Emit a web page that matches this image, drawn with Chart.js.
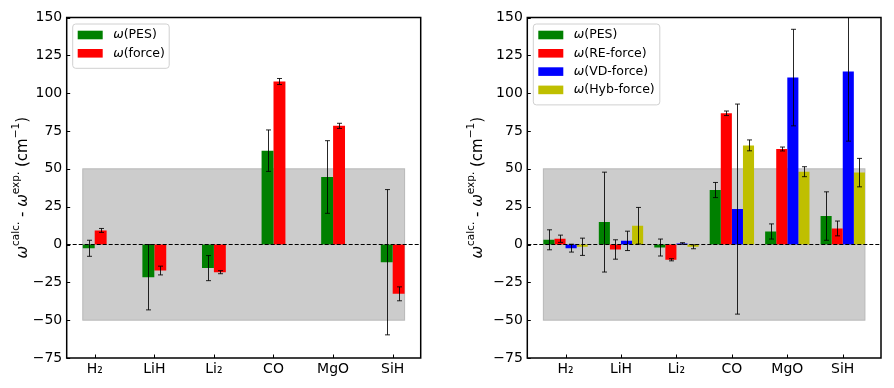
<!DOCTYPE html>
<html>
<head>
<meta charset="utf-8">
<script src="https://cdn.jsdelivr.net/npm/chart.js@4/dist/chart.umd.min.js"></script>
<style>
  body { margin: 0; background: #fff; }
  #wrap { position: relative; width: 894px; height: 388px; }
  canvas { position: absolute; top: 0; }
</style>
</head>
<body>
<div id="wrap">
  <canvas id="leftChart" width="447" height="388" style="left:0"></canvas>
  <canvas id="rightChart" width="447" height="388" style="left:447px"></canvas>
</div>
<script>
// molecules on the x axis
const categories = ['H₂', 'LiH', 'Li₂', 'CO', 'MgO', 'SiH'];
const yTicks = [-75, -50, -25, 0, 25, 50, 75, 100, 125, 150];

// left panel
const pesLeft = [-2.5, -21.6, -15.6, 62.0, 44.6, -11.7];
const pesLeftErr = [5.3, 21.6, 8.3, 13.7, 24.0, 48.0];
const forceLeft = [9.3, -17.2, -18.3, 107.7, 78.4, -32.6];
const forceLeftErr = [1.3, 2.9, 1.0, 2.0, 1.7, 4.6];

// right panel
const pesRight = [3.1, 14.8, -2.0, 36.0, 8.6, 18.8];
const pesRightErr = [6.6, 33.0, 5.6, 5.0, 5.0, 16.0];
const reRight = [3.8, -3.3, -10.1, 86.7, 63.1, 10.6];
const reRightErr = [2.4, 6.4, 0.7, 1.5, 1.3, 4.9];
const vdRight = [-2.4, 2.4, 0.7, 23.4, 110.3, 114.3];
const vdRightErr = [2.6, 6.4, 0.5, 69.4, 31.9, 46.0];
const hybRight = [-1.5, 12.4, -1.5, 65.5, 48.1, 47.5];
const hybRightErr = [5.7, 12.1, 1.3, 3.6, 3.3, 9.4];

// shaded band
const bandLow = -50;
const bandHigh = 50;

const FONT = 'DejaVu Sans';

function toXY(values) {
    return values.map((v, i) => ({ x: i, y: v }));
}

// draws band, error bars, zero line, frame, ticks, legend and y title
const decorPlugin = {
    id: 'decor',
    beforeDatasetsDraw(chart, args, opts) {
        const ctx = chart.ctx;
        const x = chart.scales.x, y = chart.scales.y;
        const x0 = x.getPixelForValue(opts.bandX[0]);
        const x1 = x.getPixelForValue(opts.bandX[1]);
        const y0 = y.getPixelForValue(bandHigh);
        const y1 = y.getPixelForValue(bandLow);
        ctx.save();
        ctx.fillStyle = '#cccccc';
        ctx.fillRect(x0, y0, x1 - x0, y1 - y0);
        ctx.strokeStyle = '#b8b8b8';
        ctx.lineWidth = 1;
        ctx.strokeRect(x0, y0, x1 - x0, y1 - y0);
        ctx.restore();
    },
    afterDatasetsDraw(chart, args, opts) {
        const ctx = chart.ctx;
        const area = chart.chartArea;
        const x = chart.scales.x, y = chart.scales.y;
        ctx.save();

        // error bars
        ctx.beginPath();
        ctx.rect(area.left, area.top, area.right - area.left, area.bottom - area.top);
        ctx.clip();
        ctx.strokeStyle = 'rgba(0,0,0,0.85)';
        ctx.lineWidth = 1;
        chart.data.datasets.forEach((ds, di) => {
            const meta = chart.getDatasetMeta(di);
            meta.data.forEach((bar, i) => {
                const v = ds.data[i].y, e = ds.errors[i];
                const yt = y.getPixelForValue(v + e);
                const yb = y.getPixelForValue(v - e);
                const cx = Math.round(bar.x) + 0.5;
                ctx.beginPath();
                ctx.moveTo(cx, yt);
                ctx.lineTo(cx, yb);
                ctx.moveTo(cx - 2.5, yt);
                ctx.lineTo(cx + 2.5, yt);
                ctx.moveTo(cx - 2.5, yb);
                ctx.lineTo(cx + 2.5, yb);
                ctx.stroke();
            });
        });

        // zero line
        const yz = y.getPixelForValue(0);
        ctx.strokeStyle = '#000';
        ctx.lineWidth = 1.2;
        ctx.setLineDash([4, 2]);
        ctx.beginPath();
        ctx.moveTo(area.left, yz);
        ctx.lineTo(area.right, yz);
        ctx.stroke();
        ctx.setLineDash([]);
        ctx.restore();

        ctx.save();
        // ticks pointing inward
        ctx.strokeStyle = '#000';
        ctx.lineWidth = 1;
        yTicks.forEach(t => {
            const py = Math.round(y.getPixelForValue(t)) + 0.5;
            ctx.beginPath();
            ctx.moveTo(area.left, py);
            ctx.lineTo(area.left + 3.5, py);
            ctx.stroke();
        });
        categories.forEach((c, i) => {
            const px = Math.round(x.getPixelForValue(i)) + 0.5;
            ctx.beginPath();
            ctx.moveTo(px, area.bottom);
            ctx.lineTo(px, area.bottom - 3.5);
            ctx.stroke();
        });

        // frame
        ctx.lineWidth = 1.5;
        ctx.strokeRect(area.left, area.top, area.right - area.left, area.bottom - area.top);

        // legend
        const items = chart.data.datasets;
        const lx = area.left + 6, ly = area.top + 6.5;
        const rowH = 18.3;
        const boxH = 14 + rowH * (items.length - 1) + 12;
        const boxW = opts.legendWidth;
        ctx.fillStyle = 'rgba(255,255,255,0.85)';
        ctx.strokeStyle = '#d0d0d0';
        ctx.lineWidth = 1;
        ctx.beginPath();
        ctx.roundRect(lx, ly, boxW, boxH, 3);
        ctx.fill();
        ctx.stroke();
        ctx.textBaseline = 'middle';
        items.forEach((ds, i) => {
            const cy = ly + 11 + i * rowH;
            ctx.fillStyle = ds.backgroundColor;
            ctx.fillRect(lx + 5, cy - 4.3, 25, 8.6);
            ctx.fillStyle = '#000';
            ctx.font = 'italic 12.5px ' + FONT;
            ctx.textAlign = 'left';
            ctx.fillText('ω', lx + 40.5, cy);
            const w = ctx.measureText('ω').width;
            ctx.font = '12.5px ' + FONT;
            ctx.fillText('(' + ds.label + ')', lx + 40.5 + w, cy);
        });

        // y axis title with superscripts
        const parts = [
            { t: 'ω', f: 'italic 15px ' + FONT, dy: 0 },
            { t: 'calc.', f: '10.5px ' + FONT, dy: -6.5 },
            { t: ' - ', f: '15px ' + FONT, dy: 0 },
            { t: 'ω', f: 'italic 15px ' + FONT, dy: 0 },
            { t: 'exp.', f: '10.5px ' + FONT, dy: -6.5 },
            { t: ' (cm', f: '15px ' + FONT, dy: 0 },
            { t: '−1', f: '10.5px ' + FONT, dy: -6.5 },
            { t: ')', f: '15px ' + FONT, dy: 0 }
        ];
        let total = 0;
        parts.forEach(p => { ctx.font = p.f; p.w = ctx.measureText(p.t).width; total += p.w; });
        ctx.translate(opts.titleX, (area.top + area.bottom) / 2);
        ctx.rotate(-Math.PI / 2);
        ctx.fillStyle = '#000';
        ctx.textBaseline = 'middle';
        ctx.textAlign = 'left';
        let px = -total / 2;
        parts.forEach(p => {
            ctx.font = p.f;
            ctx.fillText(p.t, px, p.dy);
            px += p.w;
        });
        ctx.restore();
    }
};

function makeChart(canvasId, datasets, opts) {
    return new Chart(document.getElementById(canvasId).getContext('2d'), {
        type: 'bar',
        data: { datasets: datasets },
        plugins: [decorPlugin],
        options: {
            responsive: false,
            animation: false,
            devicePixelRatio: 1,
            layout: { padding: { top: 17.5, right: opts.padRight, left: 0, bottom: 0 } },
            datasets: {
                bar: {
                    categoryPercentage: opts.groupWidth,
                    barPercentage: 1,
                    borderWidth: 0
                }
            },
            scales: {
                x: {
                    type: 'linear',
                    offset: false,
                    min: opts.xMin,
                    max: opts.xMax,
                    grid: { display: false, drawTicks: false, offset: false },
                    border: { display: false },
                    afterBuildTicks: scale => {
                        scale.ticks = categories.map((c, i) => ({ value: i }));
                    },
                    afterFit: scale => { scale.height = 30; },
                    ticks: {
                        padding: 3,
                        color: '#000',
                        font: { family: FONT, size: 14 },
                        maxRotation: 0,
                        autoSkip: false,
                        callback: value => categories[value]
                    }
                },
                y: {
                    min: -75,
                    max: 150,
                    grid: { display: false, drawTicks: false },
                    border: { display: false },
                    afterFit: scale => { scale.width = opts.yWidth; },
                    afterBuildTicks: scale => {
                        scale.ticks = yTicks.map(v => ({ value: v }));
                    },
                    ticks: {
                        padding: 4.5,
                        color: '#000',
                        font: { family: FONT, size: 14 },
                        callback: value => String(value).replace('-', '−')
                    }
                }
            },
            plugins: {
                legend: { display: false },
                tooltip: { enabled: false },
                decor: {
                    bandX: opts.bandX,
                    legendWidth: opts.legendWidth,
                    titleX: opts.titleX
                }
            }
        }
    });
}

document.addEventListener('DOMContentLoaded', () => {
    makeChart('leftChart', [
        { label: 'PES', data: toXY(pesLeft), errors: pesLeftErr, backgroundColor: '#008000' },
        { label: 'force', data: toXY(forceLeft), errors: forceLeftErr, backgroundColor: '#ff0000' }
    ], {
        groupWidth: 0.4, xMin: -0.47, xMax: 5.47, bandX: [-0.2, 5.2],
        yWidth: 66.7, padRight: 26.3, legendWidth: 96.5, titleX: 23
    });

    makeChart('rightChart', [
        { label: 'PES', data: toXY(pesRight), errors: pesRightErr, backgroundColor: '#008000' },
        { label: 'RE-force', data: toXY(reRight), errors: reRightErr, backgroundColor: '#ff0000' },
        { label: 'VD-force', data: toXY(vdRight), errors: vdRightErr, backgroundColor: '#0000ff' },
        { label: 'Hyb-force', data: toXY(hybRight), errors: hybRightErr, backgroundColor: '#bfbf00' }
    ], {
        groupWidth: 0.8, xMin: -0.69, xMax: 5.69, bandX: [-0.4, 5.4],
        yWidth: 80.3, padRight: 13, legendWidth: 126.5, titleX: 31
    });
});
</script>
</body>
</html>
